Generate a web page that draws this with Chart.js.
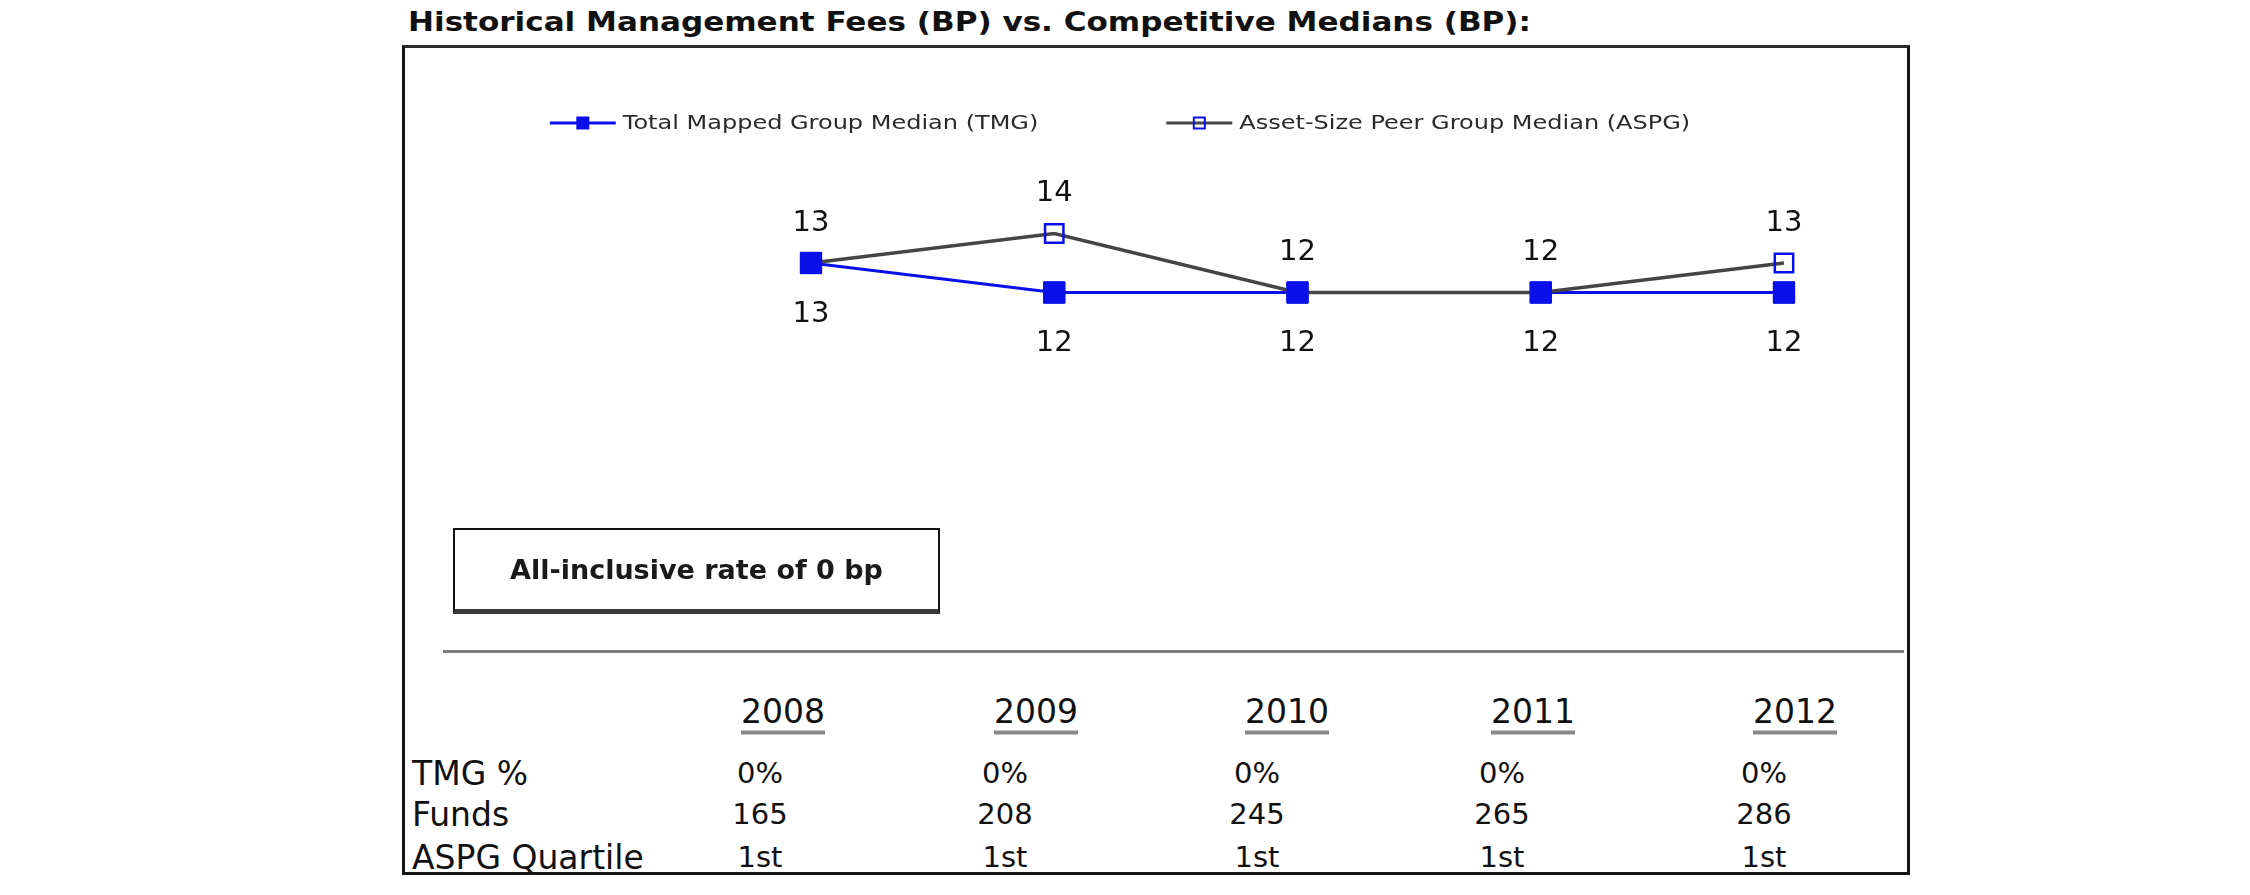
<!DOCTYPE html>
<html>
<head>
<meta charset="utf-8">
<script src="https://cdn.jsdelivr.net/npm/chart.js@4.4.0/dist/chart.umd.min.js"></script>
<style>
  html, body { margin: 0; padding: 0; background: #fff; }
  body { width: 2250px; height: 895px; position: relative; overflow: hidden; font-family: "DejaVu Sans", Verdana, sans-serif; color: #111; }
  .title { position: absolute; left: 408px; top: 6px; font-weight: bold; font-size: 27px; white-space: nowrap; transform: scaleX(1.15); transform-origin: left center; }
  .frame { position: absolute; left: 402px; top: 45px; width: 1502px; height: 824px; border: 3px solid #151515; border-top-color: #2a2a2a; }
  #chart { position: absolute; left: 403px; top: 48px; }
  .note { position: absolute; left: 453px; top: 528px; width: 483px; height: 79px; border: 2px solid #111; border-bottom: 5px solid #383838;
          font-weight: bold; font-size: 27px; color: #1a1a1a; display: flex; align-items: center; justify-content: center; }
  .rule { position: absolute; left: 443px; top: 650px; width: 1461px; height: 3px; background: #7c7c7c; }
  .cell { position: absolute; font-size: 29px; white-space: nowrap; transform: translate(-50%, -50%); }
  .year { font-size: 33px; text-decoration: underline; text-decoration-color: #888; text-decoration-thickness: 4px; text-underline-offset: 8px; }
  .rowlabel { position: absolute; left: 412px; font-size: 33px; white-space: nowrap; transform: translateY(-50%); }
</style>
</head>
<body>
<div class="title">Historical Management Fees (BP) vs. Competitive Medians (BP):</div>
<div class="frame"></div>
<canvas id="chart" width="1434" height="600"></canvas>
<div class="note">All-inclusive rate of 0 bp</div>
<div class="rule"></div>
<div id="table"></div>
<script>
// chart data
const years = ['2008', '2009', '2010', '2011', '2012'];
const tmgMedian = [13, 12, 12, 12, 12];
const aspgMedian = [13, 14, 12, 12, 13];

// table rows under the chart
const rowLabels = ['TMG %', 'Funds', 'ASPG Quartile'];
const tmgPct = ['0%', '0%', '0%', '0%', '0%'];
const funds = [165, 208, 245, 265, 286];
const aspgQuartile = ['1st', '1st', '1st', '1st', '1st'];

// layout of the table (page px)
const yearX = [783, 1036, 1287, 1533, 1795];
const valueX = [760, 1005, 1257, 1502, 1764];
const yearY = 711;
const rowY = [773, 814, 857];

const BLUE = '#0a10e8';
const GREY = '#454545';
const FONT = '"DejaVu Sans", Verdana, sans-serif';

// build the table
const table = document.getElementById('table');
years.forEach((y, i) => {
  const d = document.createElement('div');
  d.className = 'cell year';
  d.textContent = y;
  d.style.left = yearX[i] + 'px';
  d.style.top = yearY + 'px';
  table.appendChild(d);
});
[tmgPct, funds, aspgQuartile].forEach((row, r) => {
  const lab = document.createElement('div');
  lab.className = 'rowlabel';
  lab.textContent = rowLabels[r];
  lab.style.top = rowY[r] + 'px';
  table.appendChild(lab);
  row.forEach((v, i) => {
    const d = document.createElement('div');
    d.className = 'cell';
    d.textContent = v;
    d.style.left = valueX[i] + 'px';
    d.style.top = rowY[r] + 'px';
    table.appendChild(d);
  });
});

// legend drawn by hand: line with a square marker in the middle
const legendPlugin = {
  id: 'lineLegend',
  afterDraw(chart) {
    const ctx = chart.ctx;
    const y = 75;
    const lineW = 66;
    const gap = 128;
    const stretch = 1.2;
    ctx.save();
    ctx.font = '20px ' + FONT;
    const items = chart.data.datasets.map(ds => ({ ds, w: lineW + 7 + ctx.measureText(ds.label).width * stretch }));
    const total = items.reduce((s, it) => s + it.w, 0) + gap * (items.length - 1);
    let x = 717 - total / 2;
    items.forEach(({ ds, w }) => {
      ctx.strokeStyle = ds.borderColor;
      ctx.lineWidth = 3;
      ctx.beginPath();
      ctx.moveTo(x, y);
      ctx.lineTo(x + lineW, y);
      ctx.stroke();
      const s = 11;
      ctx.fillStyle = ds.pointBackgroundColor;
      ctx.fillRect(x + lineW / 2 - s / 2, y - s / 2, s, s);
      ctx.strokeStyle = ds.pointBorderColor;
      ctx.lineWidth = 2;
      ctx.strokeRect(x + lineW / 2 - s / 2, y - s / 2, s, s);
      ctx.save();
      ctx.translate(x + lineW + 7, y + 1);
      ctx.scale(stretch, 1);
      ctx.fillStyle = '#2a2a2a';
      ctx.textBaseline = 'middle';
      ctx.textAlign = 'left';
      ctx.fillText(ds.label, 0, 0);
      ctx.restore();
      x += w + gap;
    });
    ctx.restore();
  }
};

// value labels (ASPG above, TMG below); TMG squares are put back on top of the grey line
const valueLabels = {
  id: 'valueLabels',
  afterDatasetsDraw(chart) {
    const ctx = chart.ctx;
    chart.getDatasetMeta(0).data.forEach(pt => pt.draw(ctx));
    ctx.save();
    ctx.font = '29px ' + FONT;
    ctx.fillStyle = '#111';
    ctx.textAlign = 'center';
    ctx.textBaseline = 'middle';
    chart.data.datasets.forEach((ds, di) => {
      const meta = chart.getDatasetMeta(di);
      meta.data.forEach((pt, i) => {
        ctx.fillText(String(ds.data[i]), pt.x, pt.y + ds.labelOffset);
      });
    });
    ctx.restore();
  }
};

new Chart(document.getElementById('chart'), {
  type: 'line',
  data: {
    labels: years,
    datasets: [
      {
        label: 'Total Mapped Group Median (TMG)',
        data: tmgMedian,
        borderColor: BLUE,
        borderWidth: 3,
        pointStyle: 'rect',
        pointRadius: 15,
        pointBackgroundColor: BLUE,
        pointBorderColor: BLUE,
        pointBorderWidth: 1,
        labelOffset: 51,
        order: 2
      },
      {
        label: 'Asset-Size Peer Group Median (ASPG)',
        data: aspgMedian,
        borderColor: GREY,
        borderWidth: 3.5,
        pointStyle: 'rect',
        pointRadius: 13,
        pointBackgroundColor: 'rgba(255,255,255,0)',
        pointBorderColor: BLUE,
        pointBorderWidth: 2.5,
        labelOffset: -40,
        order: 1
      }
    ]
  },
  options: {
    responsive: false,
    animation: false,
    devicePixelRatio: 1,
    layout: { padding: { left: 408, right: 53, top: 156, bottom: 326 } },
    scales: {
      x: { display: false },
      y: { display: false, min: 11, max: 15 }
    },
    plugins: {
      legend: { display: false },
      tooltip: { enabled: false }
    }
  },
  plugins: [legendPlugin, valueLabels]
});
</script>
</body>
</html>
